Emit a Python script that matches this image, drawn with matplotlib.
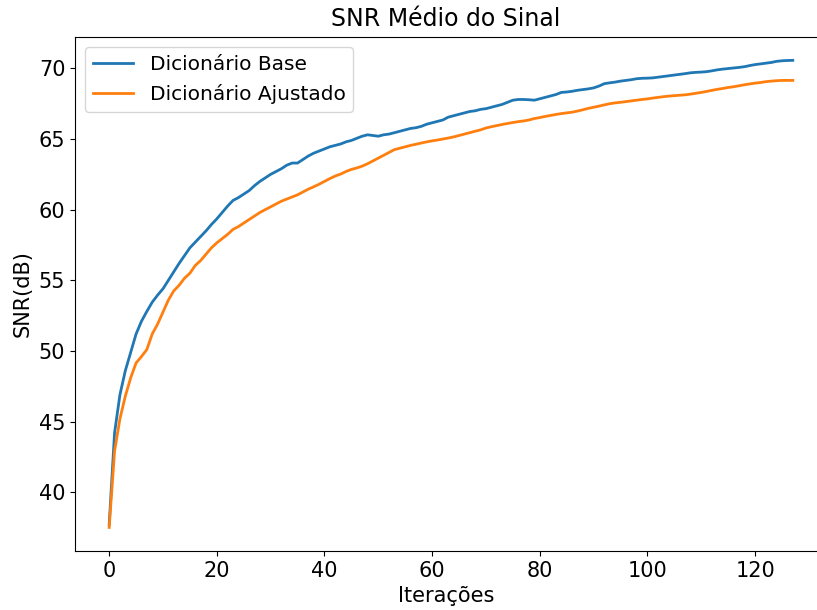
import matplotlib
matplotlib.use("Agg")
import matplotlib.pyplot as plt

iteracoes = list(range(128))

snr_base = [
    37.7, 44.2, 46.9, 48.6, 49.9, 51.2, 52.1, 52.8, 53.45, 53.95,
    54.4, 55.0, 55.6, 56.2, 56.75, 57.3, 57.7, 58.1, 58.5, 58.95,
    59.35, 59.8, 60.25, 60.65, 60.85, 61.1, 61.35, 61.7, 62.0, 62.25,
    62.5, 62.7, 62.9, 63.15, 63.3, 63.3, 63.55, 63.8, 64.0, 64.15,
    64.3, 64.45, 64.55, 64.65, 64.8, 64.9, 65.05, 65.2, 65.3, 65.25,
    65.2, 65.3, 65.35, 65.45, 65.55, 65.65, 65.75, 65.8, 65.9, 66.05,
    66.15, 66.25, 66.35, 66.55, 66.65, 66.75, 66.85, 66.95, 67.0, 67.1,
    67.15, 67.25, 67.35, 67.45, 67.6, 67.75, 67.8, 67.8, 67.78, 67.75,
    67.85, 67.95, 68.05, 68.15, 68.3, 68.33, 68.38, 68.45, 68.5, 68.55,
    68.62, 68.75, 68.92, 68.98, 69.03, 69.1, 69.15, 69.2, 69.27, 69.3,
    69.31, 69.33, 69.38, 69.43, 69.48, 69.53, 69.58, 69.63, 69.69, 69.72,
    69.74, 69.77, 69.83, 69.9, 69.95, 69.99, 70.03, 70.07, 70.12, 70.2,
    70.27, 70.32, 70.37, 70.42, 70.5, 70.54, 70.56, 70.57,
]

snr_ajustado = [
    37.5, 42.9, 45.2, 46.8, 48.1, 49.15, 49.6, 50.1, 51.2, 51.9,
    52.75, 53.6, 54.25, 54.65, 55.15, 55.5, 56.05, 56.4, 56.85, 57.3,
    57.65, 57.95, 58.25, 58.6, 58.8, 59.05, 59.3, 59.55, 59.8, 60.0,
    60.2, 60.4, 60.6, 60.75, 60.9, 61.05, 61.25, 61.45, 61.62, 61.8,
    62.0, 62.2, 62.38, 62.52, 62.7, 62.85, 62.95, 63.08, 63.25, 63.45,
    63.65, 63.85, 64.05, 64.25, 64.35, 64.45, 64.55, 64.63, 64.72, 64.8,
    64.87, 64.93, 65.0, 65.07, 65.15, 65.25, 65.35, 65.45, 65.55, 65.65,
    65.78, 65.87, 65.95, 66.03, 66.1, 66.17, 66.23, 66.28, 66.35, 66.45,
    66.52, 66.6, 66.67, 66.74, 66.8, 66.85, 66.9, 66.98, 67.07, 67.17,
    67.25, 67.33, 67.42, 67.5, 67.56, 67.6, 67.65, 67.7, 67.75, 67.8,
    67.84, 67.9, 67.95, 68.0, 68.04, 68.07, 68.1, 68.13, 68.18, 68.24,
    68.3, 68.37, 68.45, 68.52, 68.58, 68.65, 68.7, 68.77, 68.84, 68.9,
    68.96, 69.0, 69.06, 69.1, 69.13, 69.15, 69.15, 69.15,
]

labels = ["Dicionário Base", "Dicionário Ajustado"]
titulo = "SNR Médio do Sinal"
xlabel = "Iterações"
ylabel = "SNR(dB)"

fig = plt.figure(figsize=(8.17, 6.10), dpi=100)
# axes reaches the right border of the picture (the original is cropped there)
ax = fig.add_axes([75 / 817, 59.2 / 610, 742 / 817, 513.8 / 610])
ax.plot(iteracoes, snr_base, color="#1f77b4", lw=2, label=labels[0])
ax.plot(iteracoes, snr_ajustado, color="#ff7f0e", lw=2, label=labels[1])
ax.set_xlim(-6.35, 131.5)
ax.spines["right"].set_visible(False)
ax.set_title(titulo, fontsize=17, pad=8)
ax.set_xlabel(xlabel, fontsize=15)
ax.set_ylabel(ylabel, fontsize=15)
ax.tick_params(labelsize=15)
ax.legend(loc="upper left", fontsize=14.5)
fig.savefig("out.png", dpi=100, bbox_inches=None)
